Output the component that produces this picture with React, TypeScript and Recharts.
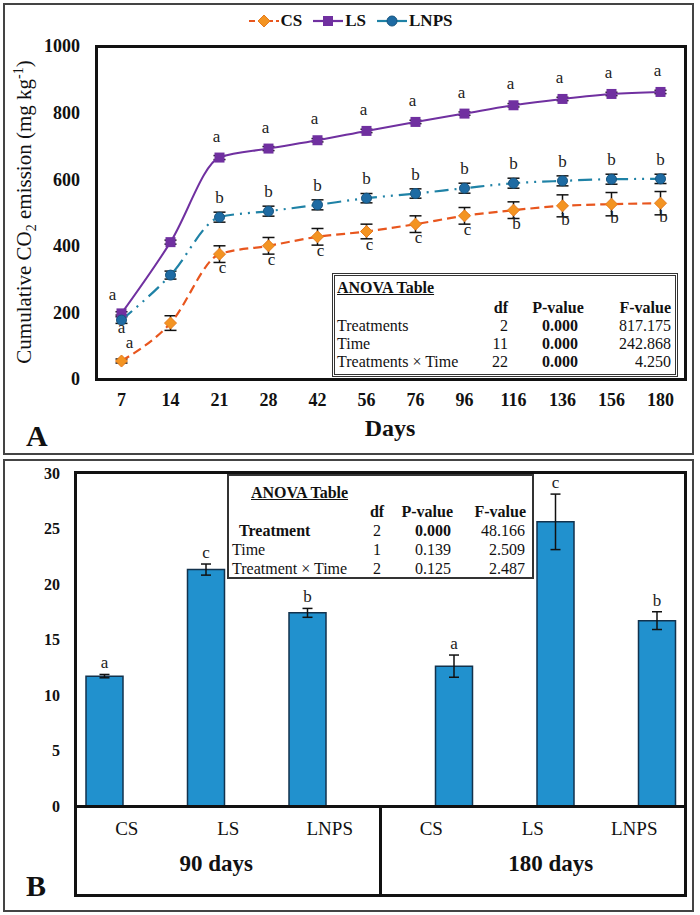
import React from "react";
import { LineChart, Line, XAxis, YAxis, Legend, ErrorBar, BarChart, Bar } from "recharts";

const SERIF = '"Liberation Serif", "Times New Roman", serif';

// ---- Panel A: cumulative CO2 emission ----
const days = ["7", "14", "21", "28", "42", "56", "76", "96", "116", "136", "156", "180"];
const csValues = [54, 168, 375, 400, 427, 443, 465, 490, 507, 520, 525, 528];
const lsValues = [197, 411, 665, 692, 717, 745, 772, 797, 822, 841, 856, 862];
const lnpsValues = [177, 312, 486, 504, 523, 543, 557, 573, 588, 595, 600, 601];
const csErrors = [6, 22, 25, 25, 25, 22, 25, 25, 25, 33, 35, 35];
const lsErrors = [5, 6, 6, 6, 5, 5, 5, 5, 5, 5, 5, 5];
const lnpsErrors = [10, 12, 15, 15, 15, 14, 14, 15, 15, 15, 15, 14];
const csLetters = ["a", "", "c", "c", "c", "c", "c", "c", "b", "b", "b", "b"];
const lsLetters = ["a", "", "a", "a", "a", "a", "a", "a", "a", "a", "a", "a"];
const lnpsLetters = ["a", "", "b", "b", "b", "b", "b", "b", "b", "b", "b", "b"];
const emissionTicks = [0, 200, 400, 600, 800, 1000];
const legendOrder = ["cs", "ls", "lnps"];

const anovaA = [
  { term: "Treatments", df: "2", p: "0.000", f: "817.175" },
  { term: "Time", df: "11", p: "0.000", f: "242.868" },
  { term: "Treatments × Time", df: "22", p: "0.000", f: "4.250" },
];

// ---- Panel B: DOC ----
const docTreatments = ["CS", "LS", "LNPS", "CS", "LS", "LNPS"];
const docPeriods = ["90 days", "90 days", "90 days", "180 days", "180 days", "180 days"];
const doc90 = [11.7, 21.3, 17.4, null, null, null];
const doc90Err = [0.15, 0.5, 0.4, null, null, null];
const doc180 = [null, null, null, 12.6, 25.6, 16.7];
const doc180Err = [null, null, null, 1.0, 2.5, 0.8];
const docLetters = ["a", "c", "b", "a", "c", "b"];
const docTicks = [0, 5, 10, 15, 20, 25, 30];

const anovaB = [
  { term: "Treatment", df: "2", p: "0.000", f: "48.166", bold: true },
  { term: "Time", df: "1", p: "0.139", f: "2.509", bold: false },
  { term: "Treatment × Time", df: "2", p: "0.125", f: "2.487", bold: false },
];

const emissionData = days.map((day, i) => ({
  day,
  cs: csValues[i],
  ls: lsValues[i],
  lnps: lnpsValues[i],
  csErr: csErrors[i],
  lsErr: lsErrors[i],
  lnpsErr: lnpsErrors[i],
}));

const docData = docTreatments.map((t, i) => ({
  slot: `${t}-${docPeriods[i]}`,
  d90: doc90[i],
  e90: doc90Err[i],
  d180: doc180[i],
  e180: doc180Err[i],
}));

const COLORS = {
  csLine: "#E8561E",
  csMark: "#F39422",
  ls: "#7030A0",
  lnpsLine: "#1F82A6",
  lnpsMark: "#1E6BA3",
  bar: "#2191CE",
};

const drawMarker = (kind: string, cx: number, cy: number, key?: string) => {
  if (kind === "cs")
    return (
      <polygon
        key={key}
        points={`${cx},${cy - 6} ${cx + 6},${cy} ${cx},${cy + 6} ${cx - 6},${cy}`}
        fill={COLORS.csMark}
        stroke="#E67A1C"
        strokeWidth={1}
      />
    );
  if (kind === "ls")
    return <rect key={key} x={cx - 5} y={cy - 5} width={10} height={10} fill={COLORS.ls} />;
  return <circle key={key} cx={cx} cy={cy} r={5} fill={COLORS.lnpsMark} stroke="#17557f" strokeWidth={1} />;
};

const letterLabel =
  (series: string, letters: string[], place: (i: number) => { dx: number; dy: number }) =>
  (props: any) => {
    const { x, y, index } = props;
    const t = letters[index];
    if (!t || x == null || y == null) return null;
    const p = place(index);
    return (
      <text key={`${series}-lbl-${index}`} x={x + p.dx} y={y + p.dy} textAnchor="middle" fontSize={17} fontFamily={SERIF} fill="#222">
        {t}
      </text>
    );
  };

const LegendContent = (props: any) => {
  const payload = [...(props.payload || [])].sort(
    (a: any, b: any) => legendOrder.indexOf(a.dataKey) - legendOrder.indexOf(b.dataKey)
  );
  return (
    <div style={{ display: "flex", justifyContent: "center", alignItems: "center", height: 30, gap: 10 }}>
      {payload.map((e: any) => {
        const k = e.dataKey as string;
        const stroke = k === "cs" ? COLORS.csLine : k === "ls" ? COLORS.ls : COLORS.lnpsLine;
        return (
          <span key={k} style={{ display: "flex", alignItems: "center" }}>
            <svg width={32} height={14}>
              <line x1={1} y1={7} x2={31} y2={7} stroke={stroke} strokeWidth={2.2} strokeDasharray={k === "cs" ? "6 3" : undefined} />
              {drawMarker(k, 16, 7)}
            </svg>
            <span style={{ fontFamily: SERIF, fontWeight: 700, fontSize: 17, color: "#111", marginLeft: 1 }}>{e.value}</span>
          </span>
        );
      })}
    </div>
  );
};

const Co2Label = () => (
  <text transform="translate(31,212) rotate(-90)" textAnchor="middle" fontSize={21} fontFamily={SERIF} fill="#111">
    Cumulative CO<tspan dy={5} fontSize={14}>2</tspan>
    <tspan dy={-5}> emission (mg kg</tspan>
    <tspan dy={-8} fontSize={14}>-1</tspan>
    <tspan dy={8}>)</tspan>
  </text>
);

const DaysLabel = () => (
  <text x={390} y={436} textAnchor="middle" fontSize={24} fontWeight={700} fontFamily={SERIF} fill="#111">
    Days
  </text>
);

const DocLabel = () => (
  <text transform="translate(34,640) rotate(-90)" textAnchor="middle" fontSize={22} fontFamily={SERIF} fill="#111">
    DOC (mg kg<tspan dy={-8} fontSize={14}>-1</tspan>
    <tspan dy={8}>)</tspan>
  </text>
);

const DocTick = (props: any) => {
  const { x, y, index } = props;
  const i = index ?? props.payload?.index ?? 0;
  const showGroup = i === 1 || i === 4;
  return (
    <g>
      <text x={x} y={y + 29} textAnchor="middle" fontSize={19} fontFamily={SERIF} fill="#111">
        {docTreatments[i]}
      </text>
      {showGroup && (
        <text x={x - (i === 1 ? 12 : -18)} y={y + 65} textAnchor="middle" fontSize={23} fontWeight={700} fontFamily={SERIF} fill="#111">
          {docPeriods[i]}
        </text>
      )}
    </g>
  );
};

// letters above the bars, lifted above the error bar top
const barLetter = (values: (number | null)[], errs: (number | null)[]) => (props: any) => {
  const { x, y, width, height, value } = props;
  if (value == null || !height) return null;
  const i = values.indexOf(value);
  if (i < 0) return null;
  const err = errs[i] ?? 0;
  const top = y - (err * height) / value;
  return (
    <text key={`bl-${i}`} x={x + width / 2} y={top - 6} textAnchor="middle" fontSize={17} fontFamily={SERIF} fill="#222">
      {docLetters[i]}
    </text>
  );
};

const Abs = ({ x, y, w = 200, align = "left", bold = false, underline = false, size = 16, children }: any) => {
  const left = align === "left" ? x : align === "right" ? x - w : x - w / 2;
  const h = size > 20 ? size : Math.round(size * 1.3);
  return (
    <div
      style={{
        position: "absolute",
        left,
        top: y - h / 2,
        width: w,
        height: h,
        lineHeight: `${h}px`,
        textAlign: align,
        fontFamily: SERIF,
        fontSize: size,
        fontWeight: bold ? 700 : 400,
        textDecoration: underline ? "underline" : "none",
        color: "#111",
        whiteSpace: "nowrap",
      }}
    >
      {children}
    </div>
  );
};

const box = (left: number, top: number, width: number, height: number, border: string, extra: any = {}) => (
  <div style={{ position: "absolute", left, top, width, height, border, boxSizing: "border-box", ...extra }} />
);

export default function App() {
  return (
    <div style={{ position: "absolute", left: 0, top: 0, width: 700, height: 915, background: "#fff", overflow: "hidden" }}>
      {/* Panel A */}
      <div style={{ position: "absolute", left: 0, top: 0 }}>
        <LineChart width={700} height={454} data={emissionData} margin={{ top: 16, right: 15, left: 17, bottom: 15 }}>
          <Legend verticalAlign="top" content={<LegendContent />} wrapperStyle={{ top: 6, left: 0, width: 700 }} />
          <XAxis
            dataKey="day"
            height={60}
            padding={{ left: 24.5, right: 24.5 }}
            tickLine={false}
            axisLine={false}
            tickSize={0}
            tickMargin={14}
            interval={0}
            tick={{ fontSize: 18, fontWeight: 700, fontFamily: SERIF, fill: "#111" }}
            label={{ content: <DaysLabel /> }}
          />
          <YAxis
            width={80}
            domain={[0, 1000]}
            ticks={emissionTicks}
            tickLine={false}
            axisLine={false}
            tickSize={0}
            tickMargin={17}
            tick={{ fontSize: 18, fontWeight: 700, fontFamily: SERIF, fill: "#111" }}
            label={{ content: <Co2Label /> }}
          />
          <Line
            type="monotone"
            dataKey="cs"
            name="CS"
            stroke={COLORS.csLine}
            strokeWidth={2.2}
            strokeDasharray="9 5"
            isAnimationActive={false}
            dot={(p: any) => drawMarker("cs", p.cx, p.cy, `cs-${p.index}`)}
            label={letterLabel("cs", csLetters, (i) => (i === 0 ? { dx: 8, dy: -13 } : { dx: 3, dy: 19 }))}
          >
            <ErrorBar dataKey="csErr" direction="y" width={6} strokeWidth={1.5} stroke="#111" />
          </Line>
          <Line
            type="monotone"
            dataKey="ls"
            name="LS"
            stroke={COLORS.ls}
            strokeWidth={2}
            isAnimationActive={false}
            dot={(p: any) => drawMarker("ls", p.cx, p.cy, `ls-${p.index}`)}
            label={letterLabel("ls", lsLetters, (i) => (i === 0 ? { dx: -9, dy: -13 } : { dx: -3, dy: -16 }))}
          >
            <ErrorBar dataKey="lsErr" direction="y" width={6} strokeWidth={1.5} stroke="#111" />
          </Line>
          <Line
            type="monotone"
            dataKey="lnps"
            name="LNPS"
            stroke={COLORS.lnpsLine}
            strokeWidth={2.2}
            strokeDasharray="14 6 2 6 2 6"
            isAnimationActive={false}
            dot={(p: any) => drawMarker("lnps", p.cx, p.cy, `lnps-${p.index}`)}
            label={letterLabel("lnps", lnpsLetters, (i) => (i === 0 ? { dx: 0, dy: 13 } : { dx: 0, dy: -14 }))}
          >
            <ErrorBar dataKey="lnpsErr" direction="y" width={6} strokeWidth={1.5} stroke="#111" />
          </Line>
        </LineChart>
      </div>

      {/* Panel B */}
      <div style={{ position: "absolute", left: 0, top: 458 }}>
        <BarChart width={700} height={454} data={docData} margin={{ top: 15, right: 15, left: 10, bottom: 17 }} barSize={37} barGap={8}>
          <XAxis dataKey="slot" height={89} tickLine={false} axisLine={false} tickSize={0} tickMargin={0} interval={0} tick={<DocTick />} />
          <YAxis
            width={66}
            domain={[0, 30]}
            ticks={docTicks}
            tickLine={false}
            axisLine={false}
            tickSize={0}
            tickMargin={16}
            tick={{ fontSize: 16, fontWeight: 700, fontFamily: SERIF, fill: "#111" }}
            label={{ content: <DocLabel /> }}
          />
          <Bar dataKey="d90" fill={COLORS.bar} stroke="#12324d" strokeWidth={1.5} isAnimationActive={false} label={barLetter(doc90, doc90Err)}>
            <ErrorBar dataKey="e90" direction="y" width={5} strokeWidth={1.5} stroke="#111" />
          </Bar>
          <Bar dataKey="d180" fill={COLORS.bar} stroke="#12324d" strokeWidth={1.5} isAnimationActive={false} label={barLetter(doc180, doc180Err)}>
            <ErrorBar dataKey="e180" direction="y" width={5} strokeWidth={1.5} stroke="#111" />
          </Bar>
        </BarChart>
      </div>

      {/* frames */}
      {box(3, 3, 691, 452, "2px solid #444")}
      {box(3, 459, 691, 453, "2px solid #444")}
      {box(95, 45, 592, 336, "3px solid #111")}
      {box(74, 471, 613, 337, "3px solid #111")}
      {box(74, 805, 613, 92, "3px solid #111")}
      {box(379, 805, 3, 92, "none", { background: "#111" })}

      {/* ANOVA table A */}
      {box(332, 273, 346, 104, "3px double #333", { background: "#fff" })}
      <Abs x={337} y={287} bold underline>ANOVA Table</Abs>
      <Abs x={508} y={307} align="right" bold>df</Abs>
      <Abs x={558} y={307} align="center" bold>P-value</Abs>
      <Abs x={671} y={307} align="right" bold>F-value</Abs>
      {anovaA.map((r, i) => (
        <React.Fragment key={r.term}>
          <Abs x={337} y={325 + i * 18}>{r.term}</Abs>
          <Abs x={508} y={325 + i * 18} align="right">{r.df}</Abs>
          <Abs x={560} y={325 + i * 18} align="center" bold>{r.p}</Abs>
          <Abs x={671} y={325 + i * 18} align="right">{r.f}</Abs>
        </React.Fragment>
      ))}

      {/* ANOVA table B */}
      {box(227, 474, 307, 105, "2px solid #333", { background: "#fff" })}
      <Abs x={251} y={492} bold underline>ANOVA Table</Abs>
      <Abs x={377} y={511} align="center" bold>df</Abs>
      <Abs x={453} y={511} align="right" bold>P-value</Abs>
      <Abs x={526} y={511} align="right" bold>F-value</Abs>
      {anovaB.map((r, i) => (
        <React.Fragment key={r.term}>
          <Abs x={r.bold ? 239 : 232} y={530 + i * 19} bold={r.bold}>{r.term}</Abs>
          <Abs x={377} y={530 + i * 19} align="center">{r.df}</Abs>
          <Abs x={451} y={530 + i * 19} align="right" bold={r.bold}>{r.p}</Abs>
          <Abs x={525} y={530 + i * 19} align="right">{r.f}</Abs>
        </React.Fragment>
      ))}

      {/* panel letters */}
      <Abs x={26} y={436} w={40} bold size={30}>A</Abs>
      <Abs x={26} y={886} w={40} bold size={30}>B</Abs>
    </div>
  );
}
